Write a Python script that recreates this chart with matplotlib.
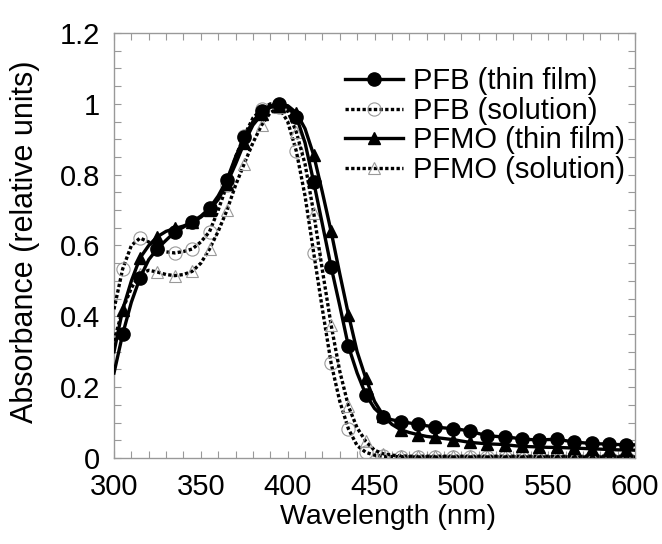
import matplotlib
matplotlib.use("Agg")
import matplotlib.pyplot as plt
from matplotlib.ticker import MultipleLocator, FuncFormatter
import numpy as np

plt.rcParams['font.family'] = ['Liberation Sans', 'DejaVu Sans']

wavelength = list(range(300, 605, 5))

pfb_film = [0.24, 0.35, 0.44, 0.509, 0.56, 0.591, 0.615, 0.638, 0.652, 0.667,
            0.683, 0.705, 0.74, 0.785, 0.85, 0.906, 0.95, 0.981, 0.995, 1.0,
            0.99, 0.964, 0.89, 0.779, 0.66, 0.54, 0.43, 0.315, 0.24, 0.179,
            0.14, 0.117, 0.108, 0.103, 0.099, 0.095, 0.091, 0.088, 0.085, 0.083,
            0.080, 0.076, 0.069, 0.063, 0.061, 0.059, 0.057, 0.054, 0.052, 0.051,
            0.052, 0.053, 0.049, 0.045, 0.043, 0.041, 0.040, 0.039, 0.038, 0.038,
            0.037]

pfb_sol = [0.42, 0.534, 0.60, 0.621, 0.61, 0.592, 0.582, 0.579, 0.583, 0.590,
           0.61, 0.639, 0.70, 0.77, 0.85, 0.91, 0.96, 0.985, 1.0, 0.99,
           0.95, 0.866, 0.74, 0.579, 0.42, 0.268, 0.16, 0.082, 0.035, 0.016,
           0.008, 0.005, 0.004, 0.004, 0.003, 0.003, 0.003, 0.003, 0.003, 0.003,
           0.003, 0.003, 0.003, 0.003, 0.003, 0.003, 0.003, 0.003, 0.003, 0.003,
           0.003, 0.003, 0.003, 0.003, 0.003, 0.003, 0.003, 0.003, 0.003, 0.003,
           0.003]

pfmo_film = [0.30, 0.419, 0.50, 0.565, 0.60, 0.625, 0.64, 0.648, 0.655, 0.665,
             0.68, 0.70, 0.73, 0.775, 0.83, 0.89, 0.94, 0.97, 0.99, 0.995,
             0.995, 0.975, 0.93, 0.855, 0.75, 0.64, 0.52, 0.405, 0.30, 0.225,
             0.16, 0.12, 0.095, 0.080, 0.072, 0.066, 0.061, 0.058, 0.055, 0.052,
             0.048, 0.044, 0.042, 0.040, 0.039, 0.038, 0.035, 0.033, 0.032, 0.031,
             0.030, 0.030, 0.029, 0.028, 0.027, 0.026, 0.025, 0.024, 0.023, 0.023,
             0.022]

pfmo_sol = [0.33, 0.42, 0.48, 0.52, 0.53, 0.525, 0.518, 0.515, 0.518, 0.527,
            0.55, 0.59, 0.64, 0.699, 0.77, 0.831, 0.89, 0.94, 0.975, 0.99,
            0.98, 0.92, 0.83, 0.692, 0.53, 0.376, 0.245, 0.146, 0.085, 0.047,
            0.022, 0.012, 0.008, 0.006, 0.005, 0.005, 0.005, 0.005, 0.005, 0.005,
            0.005, 0.005, 0.005, 0.005, 0.005, 0.005, 0.005, 0.005, 0.005, 0.005,
            0.005, 0.005, 0.005, 0.005, 0.005, 0.005, 0.005, 0.005, 0.005, 0.005,
            0.005]

labels = ["PFB (thin film)", "PFB (solution)", "PFMO (thin film)", "PFMO (solution)"]

fig = plt.figure(figsize=(6.62, 5.44), dpi=100)
ax = fig.add_axes([114/662, 1-458/544, (635-114)/662, (458-33)/544])

dotted = (0, (1.0, 0.7))
mk = slice(1, None, 2)
ax.plot(wavelength, pfb_film, color='black', lw=2.4, marker='o', ms=9.5,
        mfc='black', mec='black', markevery=mk, label=labels[0], zorder=4)
ax.plot(wavelength, pfb_sol, color='black', lw=2.4, ls=dotted, marker='o', ms=9.5,
        mfc='none', mec='#999999', mew=0.8, markevery=mk, label=labels[1], zorder=3)
ax.plot(wavelength, pfmo_film, color='black', lw=2.4, marker='^', ms=8,
        mfc='black', mec='black', markevery=mk, label=labels[2], zorder=4)
ax.plot(wavelength, pfmo_sol, color='black', lw=2.4, ls=dotted, marker='^', ms=8,
        mfc='none', mec='#999999', mew=0.8, markevery=mk, label=labels[3], zorder=3)

ax.set_xlim(300, 600)
ax.set_ylim(0, 1.2)
ax.xaxis.set_major_locator(MultipleLocator(50))
ax.xaxis.set_minor_locator(MultipleLocator(10))
ax.yaxis.set_major_locator(MultipleLocator(0.2))
ax.yaxis.set_minor_locator(MultipleLocator(0.05))
ax.yaxis.set_major_formatter(FuncFormatter(lambda v, p: f"{v:g}"))

for s in ax.spines.values():
    s.set_color('#999999')
    s.set_linewidth(1.0)
ax.tick_params(which='both', direction='in', top=True, right=True,
               color='#999999', width=0.8, labelsize=21)
ax.tick_params(which='major', length=5)
ax.tick_params(which='minor', length=5)
ax.tick_params(axis='x', which='major', pad=11)
ax.tick_params(axis='y', which='major', pad=10)

ax.set_xlabel("Wavelength (nm)", fontsize=20.5)
ax.xaxis.set_label_coords((388-114)/521, -(517-458)/425)
ax.xaxis.label.set_va('center')
ax.set_ylabel("Absorbance (relative units)", fontsize=22)
ax.yaxis.set_label_coords(-(114-25)/521, (458-242)/425)
ax.yaxis.label.set_va('center')

leg = ax.legend(loc='upper right', bbox_to_anchor=(0.981, 0.919), frameon=False,
                fontsize=21, handlelength=2.0, handletextpad=0.35,
                labelspacing=0.05, borderaxespad=0.0, borderpad=0.0)

fig.savefig("out.png", dpi=100)
